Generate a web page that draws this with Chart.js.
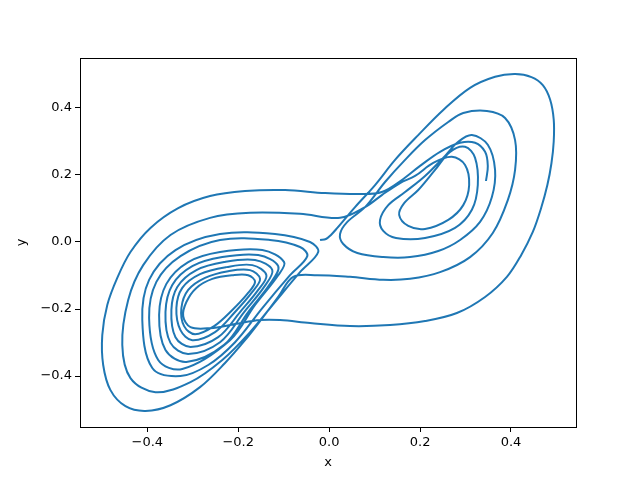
<!DOCTYPE html>
<html>
<head>
<meta charset="utf-8">
<script src="https://cdn.jsdelivr.net/npm/chart.js@4/dist/chart.umd.min.js"></script>
<style>
  html, body { margin: 0; padding: 0; background: #fff; }
  #wrap { width: 640px; height: 480px; }
</style>
</head>
<body>
<div id="wrap"><canvas id="chartTrajectory" width="640" height="480"></canvas></div>
<script>
// Trajectory, in order, as [x, y] pairs
// start near the origin and the first big loop around the right wing
const firstWing = [
    [-0.020, 0.006], [-0.007, 0.009], [0.004, 0.021], [0.018, 0.042], [0.057, 0.104],
    [0.101, 0.170], [0.145, 0.245], [0.196, 0.319], [0.251, 0.394], [0.310, 0.460],
    [0.365, 0.493], [0.409, 0.501], [0.445, 0.492], [0.470, 0.468], [0.486, 0.425],
    [0.494, 0.365], [0.494, 0.300], [0.489, 0.235], [0.480, 0.170], [0.466, 0.100],
    [0.448, 0.030], [0.422, -0.040], [0.391, -0.104], [0.343, -0.164], [0.281, -0.212],
    [0.211, -0.236], [0.134, -0.248], [0.046, -0.251], [-0.042, -0.242], [-0.108, -0.233],
    [-0.152, -0.233], [-0.207, -0.245], [-0.262, -0.257]
];

// left wing, spiralling outwards
const leftSpiral = [
    [-0.305, -0.254], [-0.321, -0.221], [-0.314, -0.179], [-0.292, -0.137], [-0.257, -0.110],
    [-0.213, -0.099], [-0.178, -0.099], [-0.163, -0.119], [-0.180, -0.155], [-0.213, -0.203], [-0.253, -0.251],
    [-0.295, -0.275], [-0.319, -0.251], [-0.325, -0.197], [-0.310, -0.143], [-0.273, -0.107],
    [-0.222, -0.087], [-0.174, -0.084], [-0.152, -0.110], [-0.169, -0.149], [-0.207, -0.209], [-0.251, -0.269],
    [-0.301, -0.293], [-0.327, -0.263], [-0.336, -0.197], [-0.323, -0.137], [-0.284, -0.096],
    [-0.226, -0.075], [-0.169, -0.069], [-0.138, -0.099], [-0.156, -0.143], [-0.196, -0.209], [-0.244, -0.284],
    [-0.305, -0.313], [-0.338, -0.284], [-0.347, -0.203], [-0.334, -0.134], [-0.292, -0.084],
    [-0.231, -0.060], [-0.163, -0.054], [-0.125, -0.084], [-0.143, -0.134], [-0.187, -0.209], [-0.240, -0.299],
    [-0.310, -0.334], [-0.349, -0.301], [-0.360, -0.209], [-0.345, -0.128], [-0.301, -0.072],
    [-0.235, -0.045], [-0.156, -0.039], [-0.112, -0.072], [-0.130, -0.125], [-0.178, -0.209], [-0.231, -0.307],
    [-0.314, -0.358], [-0.360, -0.322], [-0.374, -0.218], [-0.358, -0.125], [-0.310, -0.060],
    [-0.240, -0.030], [-0.147, -0.024], [-0.099, -0.060], [-0.112, -0.099], [-0.163, -0.188], [-0.218, -0.293],
    [-0.323, -0.379], [-0.376, -0.352], [-0.396, -0.227], [-0.380, -0.119], [-0.327, -0.042],
    [-0.240, 0.006], [-0.130, 0.006], [-0.064, -0.015], [-0.048, -0.042], [-0.086, -0.099],
    [-0.147, -0.197], [-0.207, -0.299], [-0.266, -0.367],
    [-0.327, -0.400], [-0.389, -0.376], [-0.411, -0.233], [-0.396, -0.113], [-0.338, -0.024],
    [-0.240, 0.024], [-0.119, 0.024], [-0.042, 0.000], [-0.024, -0.030], [-0.064, -0.090],
    [-0.119, -0.179], [-0.174, -0.269], [-0.235, -0.352], [-0.305, -0.418],
    [-0.382, -0.448], [-0.437, -0.406], [-0.455, -0.307], [-0.442, -0.173], [-0.409, -0.069],
    [-0.349, 0.021], [-0.262, 0.072], [-0.174, 0.087], [-0.064, 0.084], [0.024, 0.072],
    [0.079, 0.104], [0.116, 0.140], [0.156, 0.176], [0.189, 0.197]
];

// right wing, four loops growing outwards, then back across the bottom
const rightSpiral = [
    [0.229, 0.236], [0.270, 0.254], [0.299, 0.230], [0.308, 0.170], [0.295, 0.110],
    [0.262, 0.066], [0.211, 0.039], [0.174, 0.048], [0.154, 0.081], [0.165, 0.116],
    [0.196, 0.155], [0.233, 0.215], [0.266, 0.269],
    [0.299, 0.284], [0.321, 0.251], [0.327, 0.170], [0.314, 0.096], [0.277, 0.042],
    [0.211, 0.012], [0.147, 0.012], [0.119, 0.033], [0.112, 0.066], [0.130, 0.110],
    [0.167, 0.149], [0.211, 0.197], [0.255, 0.257],
    [0.284, 0.299], [0.314, 0.319], [0.349, 0.290], [0.365, 0.215], [0.358, 0.134],
    [0.332, 0.060], [0.288, 0.006], [0.240, -0.027], [0.178, -0.045], [0.119, -0.045],
    [0.062, -0.033], [0.031, -0.006], [0.024, 0.024], [0.040, 0.060], [0.079, 0.104],
    [0.123, 0.179], [0.167, 0.245], [0.211, 0.304], [0.262, 0.358],
    [0.295, 0.385], [0.347, 0.391], [0.387, 0.370], [0.409, 0.304], [0.409, 0.215],
    [0.393, 0.125], [0.360, 0.027], [0.310, -0.045], [0.244, -0.090], [0.178, -0.110],
    [0.119, -0.113], [0.046, -0.104], [-0.026, -0.099], [-0.079, -0.104]
];

// one wide loop on the left, then the unfinished loop on the right
const lastCross = [
    [-0.112, -0.164], [-0.147, -0.227], [-0.185, -0.293], [-0.229, -0.361], [-0.284, -0.433],
    [-0.349, -0.487], [-0.404, -0.504], [-0.448, -0.490], [-0.481, -0.442], [-0.497, -0.367],
    [-0.499, -0.278], [-0.488, -0.188], [-0.466, -0.107], [-0.437, -0.030], [-0.393, 0.042],
    [-0.332, 0.101], [-0.262, 0.137], [-0.185, 0.152], [-0.097, 0.155], [-0.009, 0.146],
    [0.068, 0.143], [0.116, 0.149], [0.160, 0.185], [0.200, 0.227], [0.244, 0.269],
    [0.288, 0.296], [0.321, 0.296], [0.343, 0.269], [0.349, 0.227], [0.345, 0.182]
];

const xTicks = [-0.4, -0.2, 0.0, 0.2, 0.4];
const yTicks = [-0.4, -0.2, 0.0, 0.2, 0.4];
const xLabel = 'x';
const yLabel = 'y';

Chart.defaults.font.family = '"DejaVu Sans", sans-serif';
Chart.defaults.color = '#000';

// Format ticks like matplotlib (unicode minus)
function tickText(v) {
    return v.toFixed(1).replace('-', '\u2212');
}

// Draw the full box round the plot area
const frame = {
    id: 'frame',
    afterDraw(chart) {
        const a = chart.chartArea;
        const ctx = chart.ctx;
        ctx.save();
        ctx.strokeStyle = '#000';
        ctx.lineWidth = 1;
        ctx.strokeRect(Math.round(a.left) + 0.5, Math.round(a.top) + 0.5,
            Math.round(a.right - a.left), Math.round(a.bottom - a.top));
        ctx.restore();
    }
};

const path = firstWing.concat(leftSpiral, rightSpiral, lastCross)
    .map(p => ({ x: p[0], y: p[1] }));

const ctx = document.getElementById('chartTrajectory').getContext('2d');
new Chart(ctx, {
    type: 'scatter',
    data: {
        datasets: [{
            data: path,
            showLine: true,
            borderColor: '#1f77b4',
            borderWidth: 2,
            pointRadius: 0,
            fill: false,
            tension: 0.35
        }]
    },
    options: {
        responsive: false,
        animation: false,
        devicePixelRatio: 1,
        layout: { padding: { left: 0, top: 58, right: 64, bottom: 0 } },
        plugins: {
            legend: { display: false },
            tooltip: { enabled: false }
        },
        scales: {
            x: {
                type: 'linear',
                min: -0.548,
                max: 0.543,
                afterBuildTicks: s => { s.ticks = xTicks.map(v => ({ value: v })); },
                afterFit: s => { s.height = 53; },
                ticks: { callback: tickText, font: { size: 13 }, padding: 3, maxRotation: 0 },
                grid: { drawOnChartArea: false, tickLength: 5, color: '#000' },
                border: { display: true, color: '#000' },
                title: { display: true, text: xLabel, font: { size: 13 }, padding: { top: 0, bottom: 10 } }
            },
            y: {
                type: 'linear',
                min: -0.552,
                max: 0.549,
                afterBuildTicks: s => { s.ticks = yTicks.map(v => ({ value: v })); },
                afterFit: s => { s.width = 80; },
                ticks: { callback: tickText, font: { size: 13 }, padding: 3 },
                grid: { drawOnChartArea: false, tickLength: 5, color: '#000' },
                border: { display: true, color: '#000' },
                title: { display: true, text: yLabel, font: { size: 13 }, padding: { top: 14, bottom: 0 } }
            }
        }
    },
    plugins: [frame]
});
</script>
</body>
</html>
